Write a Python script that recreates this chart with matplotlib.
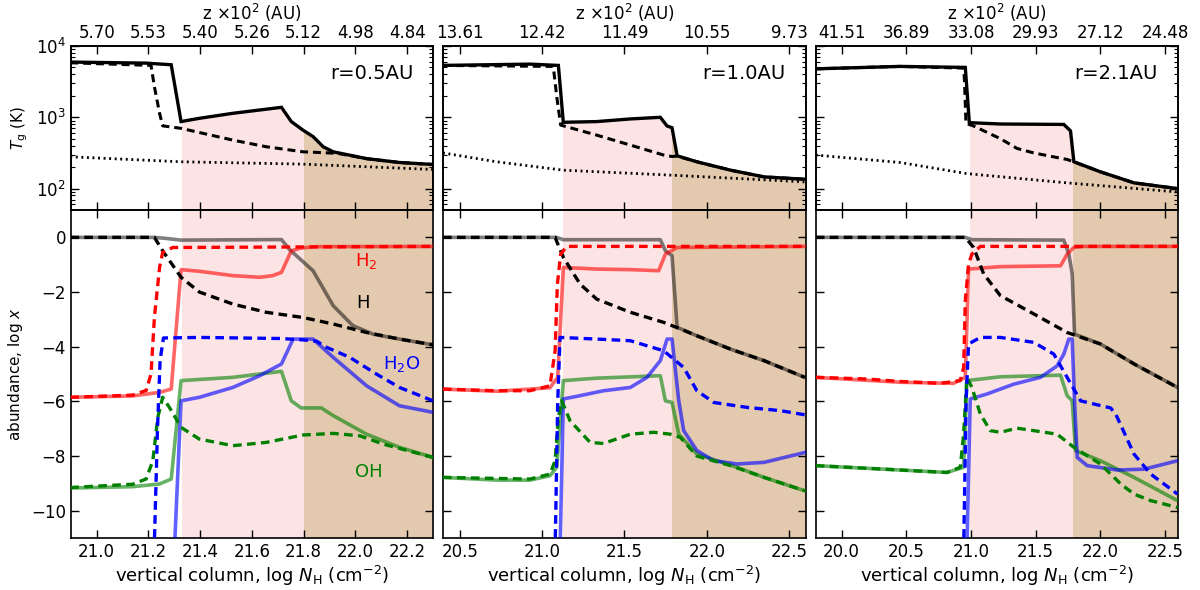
import numpy as np
import matplotlib
matplotlib.use('Agg')
import matplotlib.pyplot as plt
from matplotlib.gridspec import GridSpec
from matplotlib.ticker import FixedLocator, FixedFormatter, NullLocator

# ---------------- данные ----------------
radius_labels = ['r=0.5AU', 'r=1.0AU', 'r=2.1AU']
xlims = [(20.9, 22.3), (20.4, 22.6), (19.8, 22.6)]
xticks = [[21.0, 21.2, 21.4, 21.6, 21.8, 22.0, 22.2],
          [20.5, 21.0, 21.5, 22.0, 22.5],
          [20.0, 20.5, 21.0, 21.5, 22.0, 22.5]]
z_labels = [['5.70', '5.53', '5.40', '5.26', '5.12', '4.98', '4.84'],
            ['13.61', '12.42', '11.49', '10.55', '9.73'],
            ['41.51', '36.89', '33.08', '29.93', '27.12', '24.48']]
# границы зон (розовая, коричневая)
zone_pink = [(21.33, 21.80), (21.13, 21.79), (20.99, 21.79)]

# --- панель 1 (r=0.5AU): log T
tgas_1 = ([20.898, 21.191, 21.288, 21.326, 21.397, 21.526, 21.714, 21.752, 21.797, 21.836, 21.875, 21.914, 22.043, 22.17, 22.3],
          [3.775, 3.76, 3.737, 2.94, 2.986, 3.056, 3.14, 2.94, 2.82, 2.73, 2.587, 2.516, 2.42, 2.366, 2.338])
tdash_1 = ([20.898, 21.21, 21.223, 21.243, 21.255, 21.326, 21.526, 21.655, 21.797, 21.93, 22.043, 22.17, 22.3],
           [3.765, 3.728, 3.43, 3.056, 2.88, 2.845, 2.68, 2.587, 2.516, 2.495, 2.42, 2.366, 2.338])
tdust_1 = ([20.898, 21.326, 21.797, 22.3],
           [2.446, 2.376, 2.343, 2.268])
# --- панель 1: log x
h_sol_1 = ([20.898, 21.22, 21.26, 21.326, 21.714, 21.746, 21.836, 21.914, 21.99, 22.068, 22.17, 22.3],
           [0, 0, -0.03, -0.1, -0.08, -0.45, -1.22, -2.5, -3.23, -3.54, -3.72, -3.93])
h_dash_1 = ([20.898, 21.223, 21.255, 21.326, 21.397, 21.526, 21.655, 21.797, 21.914, 22.043, 22.17, 22.3],
            [0, 0, -0.49, -1.46, -2.0, -2.44, -2.74, -2.93, -3.17, -3.48, -3.72, -3.93])
h2_dash_1 = ([20.898, 21.139, 21.191, 21.21, 21.223, 21.243, 21.255, 21.294, 22.3],
             [-5.85, -5.77, -5.6, -5.0, -2.93, -1.1, -0.55, -0.37, -0.33])
h2_sol_1 = ([20.898, 21.139, 21.243, 21.288, 21.326, 21.397, 21.526, 21.63, 21.68, 21.714, 21.752, 21.79, 21.849, 22.3],
            [-5.85, -5.8, -5.67, -5.55, -1.18, -1.24, -1.4, -1.46, -1.4, -1.28, -0.49, -0.39, -0.34, -0.33])
h2o_dash_1 = ([21.222, 21.235, 21.245, 21.258, 21.4, 21.714, 21.797, 21.85, 21.888, 21.978, 22.081, 22.17, 22.3],
              [-11.5, -7.0, -4.5, -3.68, -3.66, -3.7, -3.75, -3.8, -4.02, -4.39, -5.0, -5.49, -5.98])
h2o_sol_1 = ([21.30, 21.326, 21.397, 21.526, 21.63, 21.714, 21.759, 21.836, 21.914, 22.043, 22.17, 22.3],
             [-11.5, -5.98, -5.85, -5.49, -5.06, -4.63, -3.72, -3.72, -4.39, -5.43, -6.16, -6.4])
oh_sol_1 = ([20.898, 21.139, 21.243, 21.288, 21.326, 21.526, 21.714, 21.752, 21.79, 21.868, 21.914, 22.043, 22.17, 22.3],
            [-9.17, -9.12, -9.02, -8.84, -5.24, -5.12, -4.9, -5.98, -6.24, -6.24, -6.52, -7.2, -7.68, -8.05])
oh_dash_1 = ([20.898, 21.139, 21.191, 21.217, 21.236, 21.255, 21.281, 21.326, 21.397, 21.526, 21.655, 21.797, 21.914, 22.017, 22.107, 22.3],
             [-9.15, -9.03, -8.84, -8.17, -6.59, -5.85, -6.22, -6.95, -7.38, -7.62, -7.5, -7.23, -7.17, -7.26, -7.56, -8.05])

# --- панель 2 (r=1.0AU): log T
tgas_2 = ([20.398, 20.926, 21.099, 21.129, 21.332, 21.536, 21.718, 21.759, 21.789, 21.82, 21.94, 22.145, 22.348, 22.595],
          [3.728, 3.746, 3.728, 2.93, 2.94, 2.977, 3.0, 2.878, 2.854, 2.46, 2.376, 2.258, 2.164, 2.131])
tdash_2 = ([20.398, 21.068, 21.089, 21.113, 21.129, 21.332, 21.536, 21.739, 21.789, 21.82, 21.94, 22.145, 22.348, 22.595],
           [3.728, 3.714, 3.29, 2.89, 2.88, 2.75, 2.61, 2.47, 2.45, 2.455, 2.376, 2.258, 2.164, 2.131])
tdust_2 = ([20.398, 20.723, 21.129, 21.789, 22.595],
           [2.5, 2.376, 2.258, 2.188, 2.094])
# --- панель 2: log x
h_sol_2 = ([20.398, 21.089, 21.129, 21.718, 21.749, 21.789, 21.82, 21.94, 22.145, 22.348, 22.595],
           [0, 0, -0.085, -0.085, -0.49, -0.67, -3.29, -3.6, -4.09, -4.51, -5.12])
h_dash_2 = ([20.398, 21.079, 21.129, 21.231, 21.332, 21.536, 21.739, 21.84, 21.94, 22.145, 22.348, 22.595],
            [0, 0, -0.73, -1.71, -2.26, -2.74, -3.11, -3.35, -3.6, -4.09, -4.51, -5.12])
h2_dash_2 = ([20.398, 20.723, 20.926, 21.048, 21.079, 21.093, 21.113, 21.15, 22.595],
             [-5.55, -5.61, -5.61, -5.43, -4.15, -1.71, -0.61, -0.33, -0.33])
h2_sol_2 = ([20.398, 20.723, 21.048, 21.095, 21.129, 21.332, 21.536, 21.708, 21.749, 21.82, 22.595],
            [-5.55, -5.63, -5.5, -5.12, -1.1, -1.16, -1.18, -1.22, -0.61, -0.37, -0.33])
h2o_dash_2 = ([21.079, 21.095, 21.109, 21.332, 21.536, 21.739, 21.86, 21.94, 22.043, 22.246, 22.449, 22.595],
              [-11.5, -6.0, -3.66, -3.72, -3.78, -4.15, -4.76, -5.61, -6.04, -6.22, -6.34, -6.49])
h2o_sol_2 = ([21.109, 21.129, 21.231, 21.373, 21.536, 21.637, 21.718, 21.759, 21.789, 21.83, 21.86, 21.94, 22.043, 22.185, 22.348, 22.595],
             [-11.5, -5.91, -5.79, -5.61, -5.49, -5.12, -4.51, -3.72, -3.72, -5.98, -7.07, -7.8, -8.17, -8.29, -8.23, -7.87])
oh_sol_2 = ([20.398, 20.723, 20.926, 21.048, 21.089, 21.129, 21.332, 21.718, 21.749, 21.789, 21.83, 21.94, 22.145, 22.348, 22.595],
            [-8.78, -8.88, -8.88, -8.72, -8.41, -5.24, -5.15, -5.06, -5.98, -6.04, -7.2, -7.93, -8.33, -8.78, -9.27])
oh_dash_2 = ([20.398, 20.926, 21.048, 21.079, 21.099, 21.119, 21.17, 21.292, 21.373, 21.536, 21.678, 21.779, 21.84, 21.94, 22.145, 22.348, 22.595],
             [-8.78, -8.84, -8.66, -8.17, -6.59, -5.98, -6.71, -7.5, -7.54, -7.2, -7.13, -7.2, -7.32, -8.0, -8.35, -8.78, -9.27])

# --- панель 3 (r=2.1AU): log T
tgas_3 = ([19.8, 20.452, 20.956, 20.987, 21.227, 21.717, 21.769, 21.795, 22.0, 22.26, 22.596],
          [3.68, 3.714, 3.7, 2.925, 2.906, 2.9, 2.81, 2.376, 2.235, 2.08, 2.0])
tdash_3 = ([19.8, 20.452, 20.943, 20.95, 20.961, 21.02, 21.227, 21.356, 21.485, 21.743, 21.795, 22.0, 22.26, 22.596],
           [3.68, 3.714, 3.69, 3.5, 2.915, 2.878, 2.7, 2.563, 2.5, 2.408, 2.376, 2.235, 2.08, 2.0])
tdust_3 = ([19.8, 20.452, 20.968, 21.743, 22.596],
           [2.47, 2.366, 2.21, 2.08, 1.953])
# --- панель 3: log x
h_sol_3 = ([19.8, 20.956, 21.007, 21.717, 21.756, 21.782, 21.8, 22.0, 22.26, 22.596],
           [0, 0, -0.085, -0.1, -0.61, -1.34, -3.54, -3.9, -4.63, -5.49])
h_dash_3 = ([19.8, 20.956, 21.02, 21.098, 21.227, 21.485, 21.743, 22.0, 22.26, 22.596],
            [0, 0, -0.37, -1.34, -2.13, -2.8, -3.48, -3.9, -4.63, -5.49])
h2_dash_3 = ([19.8, 20.194, 20.452, 20.762, 20.917, 20.943, 20.956, 20.981, 21.007, 21.072, 22.596],
             [-5.12, -5.18, -5.27, -5.34, -5.24, -4.76, -2.32, -0.98, -0.61, -0.33, -0.33])
h2_sol_3 = ([19.8, 20.452, 20.865, 20.956, 20.981, 21.227, 21.692, 21.743, 21.795, 21.872, 22.596],
            [-5.12, -5.3, -5.34, -5.12, -1.16, -1.07, -1.04, -0.61, -0.37, -0.33, -0.33])
h2o_dash_3 = ([20.943, 20.962, 20.981, 21.072, 21.227, 21.485, 21.64, 21.743, 21.847, 22.079, 22.118, 22.26, 22.389, 22.596],
              [-11.5, -6.0, -3.9, -3.66, -3.66, -3.84, -4.27, -5.12, -5.98, -6.24, -6.46, -7.93, -8.66, -9.39])
h2o_sol_3 = ([20.968, 20.994, 21.123, 21.33, 21.537, 21.666, 21.717, 21.756, 21.782, 21.8, 21.821, 21.898, 22.131, 22.337, 22.596],
             [-11.5, -5.91, -5.73, -5.37, -5.12, -4.7, -4.27, -3.72, -3.72, -5.98, -8.05, -8.35, -8.51, -8.48, -8.17])
oh_sol_3 = ([19.8, 20.452, 20.814, 20.943, 20.968, 21.227, 21.692, 21.743, 21.782, 21.808, 22.0, 22.26, 22.596],
            [-8.35, -8.51, -8.6, -8.41, -5.24, -5.1, -5.04, -5.79, -5.98, -7.8, -8.17, -8.78, -9.63])
oh_dash_3 = ([19.8, 20.452, 20.814, 20.917, 20.943, 20.968, 21.007, 21.072, 21.149, 21.227, 21.356, 21.485, 21.666, 21.795, 22.0, 22.157, 22.26, 22.389, 22.596],
             [-8.35, -8.51, -8.6, -8.41, -7.2, -5.12, -5.49, -6.46, -7.07, -7.13, -6.98, -7.07, -7.2, -7.68, -8.29, -9.02, -9.39, -9.63, -9.88])

temps = [(tgas_1, tdash_1, tdust_1), (tgas_2, tdash_2, tdust_2), (tgas_3, tdash_3, tdust_3)]
species = [
    dict(h=(h_sol_1, h_dash_1), h2=(h2_sol_1, h2_dash_1), h2o=(h2o_sol_1, h2o_dash_1), oh=(oh_sol_1, oh_dash_1)),
    dict(h=(h_sol_2, h_dash_2), h2=(h2_sol_2, h2_dash_2), h2o=(h2o_sol_2, h2o_dash_2), oh=(oh_sol_2, oh_dash_2)),
    dict(h=(h_sol_3, h_dash_3), h2=(h2_sol_3, h2_dash_3), h2o=(h2o_sol_3, h2o_dash_3), oh=(oh_sol_3, oh_dash_3)),
]

# подписи веществ (только на первой панели)
species_text = [('H$_2$', 22.04, -0.85, 'red'), ('H', 22.03, -2.39, 'black'),
                ('H$_2$O', 22.18, -4.62, 'blue'), ('OH', 22.05, -8.6, 'green')]

# ---------------- стиль ----------------
PINK = '#fde4e4'
BROWN = '#e3c9ad'
DASH = (0, (2.6, 1.6))
DOT = (0, (0.7, 1.3))
# цвет сплошной / цвет пунктирной линии, прозрачность сплошной
styles = {'h': ('black', 0.5, 'black'),
          'h2': ('red', 0.6, 'red'),
          'h2o': ('blue', 0.62, 'blue'),
          'oh': ('green', 0.6, 'green')}

plt.rcParams['font.family'] = ['DejaVu Sans']
plt.rcParams['mathtext.fontset'] = 'dejavusans'
plt.rcParams['xtick.direction'] = 'in'
plt.rcParams['ytick.direction'] = 'in'

fig = plt.figure(figsize=(12, 5.9), dpi=100)
gs = GridSpec(2, 3, figure=fig, height_ratios=[1, 2], hspace=0, wspace=0.028,
              left=0.059, right=0.9817, top=0.922, bottom=0.088)


def style_ticks(ax):
    ax.tick_params(which='major', length=6, width=1, labelsize=12, top=True, right=True)
    ax.tick_params(which='minor', length=3, width=0.8, top=True, right=True)


for i in range(3):
    ax_t = fig.add_subplot(gs[0, i])
    ax_b = fig.add_subplot(gs[1, i])
    x0, x1 = xlims[i]
    pk0, pk1 = zone_pink[i]

    # ---- температура ----
    tgas, tdash, tdust = temps[i]
    xg = np.array(tgas[0])
    tg = 10 ** np.array(tgas[1])
    under = ax_t.fill_between(xg, 1.0, tg, color='none', lw=0)
    clip = under.get_paths()[0]
    for a, b, c in [(pk0, pk1, PINK), (pk1, x1 + 1, BROWN)]:
        span = ax_t.axvspan(a, b, color=c, lw=0, zorder=0)
        span.set_clip_path(clip, ax_t.transData)
    ax_t.plot(xg, tg, color='black', lw=2.4, solid_joinstyle='miter', zorder=5)
    ax_t.plot(tdash[0], 10 ** np.array(tdash[1]), color='black', lw=2.2, ls=DASH, zorder=4)
    ax_t.plot(tdust[0], 10 ** np.array(tdust[1]), color='black', lw=2.0, ls=DOT, zorder=4)
    ax_t.set_yscale('log')
    ax_t.set_ylim(50, 1e4)
    ax_t.set_xlim(x0, x1)
    ax_t.xaxis.set_major_locator(FixedLocator(xticks[i]))
    ax_t.tick_params(axis='x', labelbottom=False, top=False)
    style_ticks(ax_t)
    ax_t.tick_params(axis='x', top=False)
    ax_t.text(0.945, 0.835, radius_labels[i], transform=ax_t.transAxes,
              ha='right', va='center', fontsize=14)

    # верхняя ось: z
    ax_z = ax_t.twiny()
    ax_z.set_xlim(x0, x1)
    ax_z.xaxis.set_major_locator(FixedLocator(xticks[i]))
    ax_z.xaxis.set_major_formatter(FixedFormatter(z_labels[i]))
    ax_z.xaxis.set_minor_locator(NullLocator())
    ax_z.tick_params(axis='x', which='major', length=6, width=1, labelsize=12, direction='in', pad=3)
    ax_z.set_xlabel(r'z $\times 10^2$ (AU)', fontsize=12, labelpad=3)

    # ---- обилия ----
    ax_b.axvspan(pk0, pk1, color=PINK, lw=0, zorder=0)
    ax_b.axvspan(pk1, x1 + 1, color=BROWN, lw=0, zorder=0)
    sp = species[i]
    for key in ['h', 'oh', 'h2o', 'h2']:
        c_sol, alpha, c_dash = styles[key]
        sol, dsh = sp[key]
        ax_b.plot(sol[0], sol[1], color=c_sol, alpha=alpha, lw=2.6, zorder=3)
    for key in ['h', 'oh', 'h2o', 'h2']:
        c_sol, alpha, c_dash = styles[key]
        sol, dsh = sp[key]
        ax_b.plot(dsh[0], dsh[1], color=c_dash, lw=2.4, ls=DASH, zorder=4)
    ax_b.set_xlim(x0, x1)
    ax_b.set_ylim(-11, 1)
    ax_b.xaxis.set_major_locator(FixedLocator(xticks[i]))
    ax_b.yaxis.set_major_locator(FixedLocator([0, -2, -4, -6, -8, -10]))
    ax_b.xaxis.set_major_formatter(FixedFormatter(['%.1f' % t for t in xticks[i]]))
    style_ticks(ax_b)
    ax_b.set_xlabel(r'vertical column, $\log\,N_{\rm H}$ (cm$^{-2}$)', fontsize=13, labelpad=2)

    if i == 0:
        ax_t.set_ylabel(r'$T_{\rm g}$ (K)', fontsize=11)
        ax_b.set_ylabel(r'abundance, $\log\,x$', fontsize=11)
        for txt, tx, ty, col in species_text:
            ax_b.text(tx, ty, txt, color=col, fontsize=13, ha='center', va='center', zorder=6)
    else:
        ax_t.tick_params(axis='y', which='both', labelleft=False)
        ax_b.tick_params(axis='y', labelleft=False)

    for ax in (ax_t, ax_b, ax_z):
        for s in ax.spines.values():
            s.set_linewidth(1.2)

fig.savefig('out.png', dpi=100)
